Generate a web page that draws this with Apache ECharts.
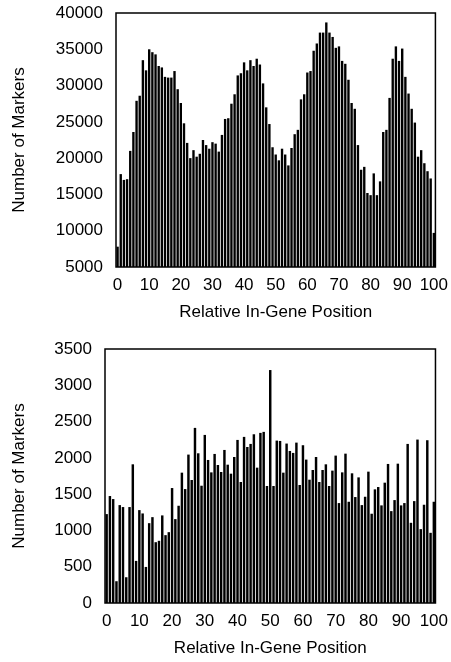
<!DOCTYPE html>
<html>
<head>
<meta charset="utf-8">
<script src="https://cdn.jsdelivr.net/npm/echarts@6/dist/echarts.min.js"></script>
<style>
  html, body { margin: 0; padding: 0; background: #fff; }
  #chart { width: 451px; height: 662px; }
</style>
</head>
<body>
<div id="chart"></div>
<script>
// relative in-gene position 0..100
var positions = [];
for (var p = 0; p <= 100; p++) positions.push(String(p));

// upper panel: marker counts per position
var topCounts = [
  7800, 17800, 17000, 17100, 21000, 23600, 27900, 28600, 33500, 32100,
  35000, 34600, 34300, 32700, 32500, 31200, 31100, 31100, 32000, 29500,
  27600, 24800, 22100, 20000, 21100, 20200, 20600, 22500, 21800, 21300,
  22200, 22000, 20900, 23200, 25400, 25500, 27500, 28800, 31400, 31700,
  33200, 32100, 33500, 32700, 33700, 32900, 30300, 27000, 24700, 21500,
  20500, 19700, 21300, 20500, 19000, 21400, 23300, 23900, 28100, 28800,
  31800, 32000, 34800, 35800, 37300, 37300, 38700, 37300, 36700, 35200,
  35400, 33400, 33000, 30800, 27600, 26800, 21800, 18400, 18800, 15200,
  14900, 17900, 14900, 16800, 23600, 23900, 28300, 33700, 35400, 33400,
  35100, 31200, 28900, 26800, 24900, 20200, 21100, 19300, 18200, 17200,
  9700
];

// lower panel
var bottomCounts = [
  1225, 1474, 1432, 300, 1349, 1322, 355, 1322, 1911, 580,
  1280, 1234, 497, 1100, 1183, 838, 857, 1207, 935, 976,
  1584, 1156, 1340, 1796, 1570, 2045, 1695, 2413, 2063, 1616,
  2316, 1971, 1800, 2054, 1902, 1805, 2109, 1906, 1782, 2012,
  2247, 1667, 2289, 2150, 2192, 2325, 1865, 2344, 2358, 1612,
  3210, 1612, 2238, 2233, 1796, 2197, 2095, 2068, 2210, 1626,
  2174, 1976, 1699, 1833, 2012, 1667, 1833, 1911, 1612, 1824,
  2031, 1377, 1800, 2058, 1395, 1787, 1460, 1731, 1349, 1464,
  1810, 1230, 1566, 1598, 1345, 1658, 1916, 1266, 1418, 1920,
  1345, 1377, 2192, 1105, 1404, 2252, 1018, 1354, 2243, 967,
  1395
];

var font = '"Liberation Sans", Arial, Helvetica, sans-serif';
var fs = 17;

function xAxisFor(idx) {
  return {
    type: 'category',
    gridIndex: idx,
    data: positions,
    boundaryGap: true,
    name: 'Relative In-Gene Position',
    nameLocation: 'middle',
    nameGap: 37,
    nameTextStyle: { color: '#000', fontSize: fs, fontFamily: font },
    axisLine: { show: false },
    axisTick: { show: false },
    axisLabel: { interval: 9, color: '#000', fontSize: fs, fontFamily: font, margin: 10 },
    splitLine: { show: false }
  };
}

function yAxisFor(idx, min, max, step, gap) {
  return {
    type: 'value',
    gridIndex: idx,
    min: min, max: max, interval: step,
    name: 'Number of Markers',
    nameLocation: 'middle',
    nameGap: gap,
    nameTextStyle: { color: '#000', fontSize: fs, fontFamily: font },
    axisLine: { show: false },
    axisTick: { show: false },
    axisLabel: {
      color: '#000', fontSize: fs, fontFamily: font, margin: 13,
      formatter: function (v) { return String(v); }
    },
    splitLine: { show: false }
  };
}

var chart = echarts.init(document.getElementById('chart'), null, { renderer: 'canvas' });
chart.setOption({
  animation: false,
  backgroundColor: '#fff',
  grid: [
    { left: 116, right: 12, top: 13, height: 254, show: true, borderColor: '#000', borderWidth: 1.5, backgroundColor: 'transparent' },
    { left: 105, right: 12, top: 349, height: 254, show: true, borderColor: '#000', borderWidth: 1.5, backgroundColor: 'transparent' }
  ],
  xAxis: [xAxisFor(0), xAxisFor(1)],
  yAxis: [
    yAxisFor(0, 5000, 40000, 5000, 88),
    yAxisFor(1, 0, 3500, 500, 77)
  ],
  series: [
    { type: 'bar', xAxisIndex: 0, yAxisIndex: 0, data: topCounts, barCategoryGap: '25%', itemStyle: { color: '#000' } },
    { type: 'bar', xAxisIndex: 1, yAxisIndex: 1, data: bottomCounts, barCategoryGap: '25%', itemStyle: { color: '#000' } }
  ]
});
</script>
</body>
</html>
